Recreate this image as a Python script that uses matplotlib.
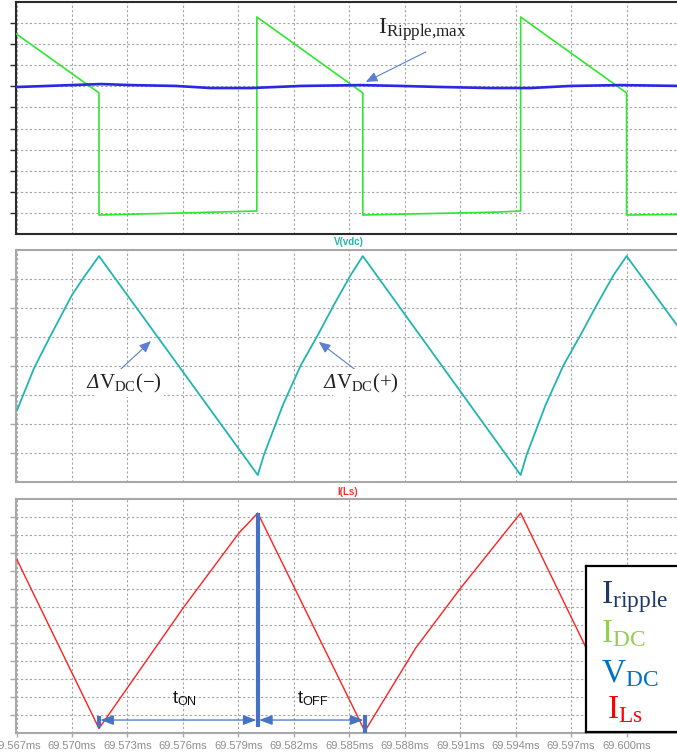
import matplotlib
matplotlib.use('Agg')
import matplotlib.pyplot as plt

plt.rcParams['mathtext.fontset'] = 'custom'
plt.rcParams['mathtext.rm'] = 'Liberation Serif'
plt.rcParams['mathtext.it'] = 'Liberation Serif:italic'
plt.rcParams['mathtext.bf'] = 'Liberation Serif:bold'

# ---------------- data ----------------
time_ticks = [69.567, 69.570, 69.573, 69.576, 69.579, 69.582, 69.585,
              69.588, 69.591, 69.594, 69.597, 69.600]
tick_labels = ['69.567ms', '69.570ms', '69.573ms', '69.576ms', '69.579ms',
               '69.582ms', '69.585ms', '69.588ms', '69.591ms', '69.594ms',
               '69.597ms', '69.600ms']

# I_DC (green) - top panel
idc_t = [69.5670, 69.57146, 69.57146, 69.57605, 69.58000, 69.58000, 69.58573,
         69.58573, 69.59303, 69.59427, 69.59427, 69.60000, 69.60000, 69.60292]
idc_v = [9.48, 6.69, 0.90, 1.00, 1.09, 10.29, 6.69,
         0.90, 1.04, 1.09, 10.29, 6.69, 0.90, 0.93]

# I_ripple (blue) - top panel
irip_t = [69.56703, 69.56995, 69.57157, 69.57319, 69.57562, 69.57751, 69.57968,
          69.58238, 69.58562, 69.58778, 69.58995, 69.59265, 69.59481, 69.59697,
          69.59968, 69.60292]
irip_v = [6.97, 7.06, 7.11, 7.06, 7.02, 6.92, 6.92,
          7.02, 7.06, 7.02, 6.97, 6.92, 6.92, 7.02,
          7.06, 7.02]

# V(vdc) (teal) - middle panel
vdc_t = [69.56703, 69.56795, 69.56886, 69.57000, 69.57065, 69.57146,
         69.58005, 69.58038, 69.58141, 69.58238, 69.58330, 69.58416, 69.58508, 69.58573,
         69.59427, 69.59459, 69.59562, 69.59659, 69.59751, 69.59838, 69.59930, 69.60000,
         69.60292]
vdc_v = [2.48, 3.93, 5.07, 6.45, 7.07, 7.79,
         0.24, 0.93, 2.66, 4.03, 5.07, 6.10, 7.14, 7.79,
         0.24, 0.93, 2.66, 4.03, 5.07, 6.10, 7.14, 7.79,
         5.24]

# I(Ls) (red) - bottom panel
ils_t = [69.56703, 69.57146, 69.57605, 69.57903, 69.58005, 69.58584,
         69.58859, 69.59103, 69.59427, 69.60000, 69.60292]
ils_v = [9.61, 0.25, 7.00, 11.11, 12.22, 0.10,
         4.72, 8.06, 12.22, 0.10, 4.60]

legend_labels = [r'$\mathrm{I}_{\mathrm{ripple}}$', r'$\mathrm{I}_{\mathrm{DC}}$',
                 r'$\mathrm{V}_{\mathrm{DC}}$', r'$\mathrm{I}_{\mathrm{Ls}}$']
legend_colors = ['#1F3864', '#92D050', '#0070C0', '#FF0000']

# ---------------- figure ----------------
W, H = 677, 755
fig = plt.figure(figsize=(W / 100, H / 100), dpi=100)
fig.patch.set_facecolor('white')

XL = (69.56697, 69.60289)
grid_kw = dict(color='#a3a3a3', linestyle=(0, (2, 2)), linewidth=0.8)


def make_ax(top_px, bot_px, ylim, yticks, spine_col):
    ax = fig.add_axes([16 / W, (H - bot_px) / H, 664 / W, (bot_px - top_px) / H])
    ax.set_xlim(*XL)
    ax.set_ylim(*ylim)
    ax.set_yticks(yticks)
    ax.set_xticks(time_ticks)
    ax.grid(True, **grid_kw)
    ax.set_axisbelow(True)
    for s in ax.spines.values():
        s.set_color(spine_col)
        s.set_linewidth(1.5)
    ax.tick_params(axis='y', length=4, width=1, color=spine_col, labelleft=False)
    ax.tick_params(axis='x', length=0, labelbottom=False)
    return ax


ax1 = make_ax(2, 234, (0, 11), range(1, 11), '#2b2b2b')
ax2 = make_ax(250, 482, (0, 8), range(1, 8), '#a8a8a8')
ax3 = make_ax(499, 733, (0, 13), range(1, 13), '#a8a8a8')

ax3.tick_params(axis='x', length=3, width=1, color='#a8a8a8', labelbottom=True,
                labelsize=8, labelcolor='#8e8e8e', pad=3)
ax3.set_xticklabels(tick_labels, fontfamily='Liberation Sans')

# ---------------- traces ----------------
ax1.plot(idc_t, idc_v, color='#2ee82e', lw=1.2, zorder=3)
ax1.plot(irip_t, irip_v, color='#2828e6', lw=1.9, zorder=4)
ax2.plot(vdc_t, vdc_v, color='#22b5b0', lw=1.3, zorder=3)
ax3.plot(ils_t, ils_v, color='#ff2020', lw=1.0, zorder=3)

# panel headers
fig.text(349 / W, 1 - 242 / H, 'V(vdc)', ha='center', va='center', fontsize=7,
         fontweight='bold', color='#22b5b0', fontfamily='Liberation Sans')
fig.text(348 / W, 1 - 492 / H, 'I(Ls)', ha='center', va='center', fontsize=7,
         fontweight='bold', color='#ff3030', fontfamily='Liberation Sans')

acol = '#4472C4'

# ---------------- top annotation ----------------
ax1.annotate('', xy=(69.58589, 7.21), xytext=(69.58914, 8.63),
             arrowprops=dict(arrowstyle='-|>,head_length=0.7,head_width=0.3',
                             color='#5b80cf', lw=0.8, shrinkA=0, shrinkB=0), zorder=6)
ax1.text(69.58654, 9.48, r'$\mathrm{I}_{\mathrm{Ripple{,}max}}$', fontsize=17.5,
         va='baseline', ha='left', color='#222222', zorder=6)

# ---------------- middle annotations ----------------
for (tail, head, dx, vx, lab) in [
        ((69.57265, 3.90), (69.57427, 4.86), 69.57081, 69.57146, r'$\mathrm{V}_{\mathrm{DC}}(-)$'),
        ((69.58535, 3.86), (69.58335, 4.83), 69.58362, 69.58427, r'$\mathrm{V}_{\mathrm{DC}}(+)$')]:
    ax2.annotate('', xy=head, xytext=tail,
                 arrowprops=dict(arrowstyle='-|>,head_length=0.7,head_width=0.3',
                                 color='#5b80cf', lw=0.8, shrinkA=0, shrinkB=0), zorder=6)
    ax2.text(vx, 3.24, lab, fontsize=15, va='baseline', ha='left', color='#222222', zorder=7,
             bbox=dict(facecolor='white', edgecolor='none', pad=2))
    ax2.text(dx, 3.24, 'Δ', fontsize=13.5, fontstyle='italic', fontfamily='DejaVu Serif',
             va='baseline', ha='left', color='#222222', zorder=8)

# ---------------- bottom annotations ----------------
t_on_start, t_peak, t_off_end = ils_t[1], ils_t[4], ils_t[5]
ax3.plot([t_peak, t_peak], [ils_v[4], 0.33], color=acol, lw=3.0, zorder=5,
         solid_capstyle='butt')
ax3.plot([t_on_start, t_on_start], [0.94, 0.33], color=acol, lw=3.0, zorder=5,
         solid_capstyle='butt')
ax3.plot([t_off_end, t_off_end], [1.0, 0.0], color=acol, lw=3.0, zorder=5,
         solid_capstyle='butt')
for a, b in [(t_on_start, t_peak), (t_peak, t_off_end)]:
    ax3.annotate('', xy=(a, 0.72), xytext=(b, 0.72),
                 arrowprops=dict(arrowstyle='<|-|>,head_length=0.8,head_width=0.3',
                                 color=acol, lw=0.9, shrinkA=1, shrinkB=1), zorder=6)
ax3.text(69.57541, 1.67, r'$\mathregular{t}_{\mathregular{ON}}$', fontsize=13,
         fontfamily='Liberation Sans', va='baseline', ha='left', color='#111111', zorder=6)
ax3.text(69.58216, 1.67, r'$\mathregular{t}_{\mathregular{OFF}}$', fontsize=13,
         fontfamily='Liberation Sans', va='baseline', ha='left', color='#111111', zorder=6)

# ---------------- legend box ----------------
lg = fig.add_axes([586 / W, 23 / H, 110 / W, 166 / H])
lg.set_facecolor('white')
lg.set_xticks([])
lg.set_yticks([])
for s in lg.spines.values():
    s.set_color('black')
    s.set_linewidth(1.6)
lg.set_xlim(0, 1)
lg.set_ylim(0, 1)
for lab, col, xx, yy in zip(legend_labels, legend_colors,
                            [0.136, 0.136, 0.136, 0.19],
                            [0.777, 0.542, 0.301, 0.084]):
    lg.text(xx, yy, lab, fontsize=24, color=col, va='baseline', ha='left')

fig.savefig('out.png', dpi=100)
